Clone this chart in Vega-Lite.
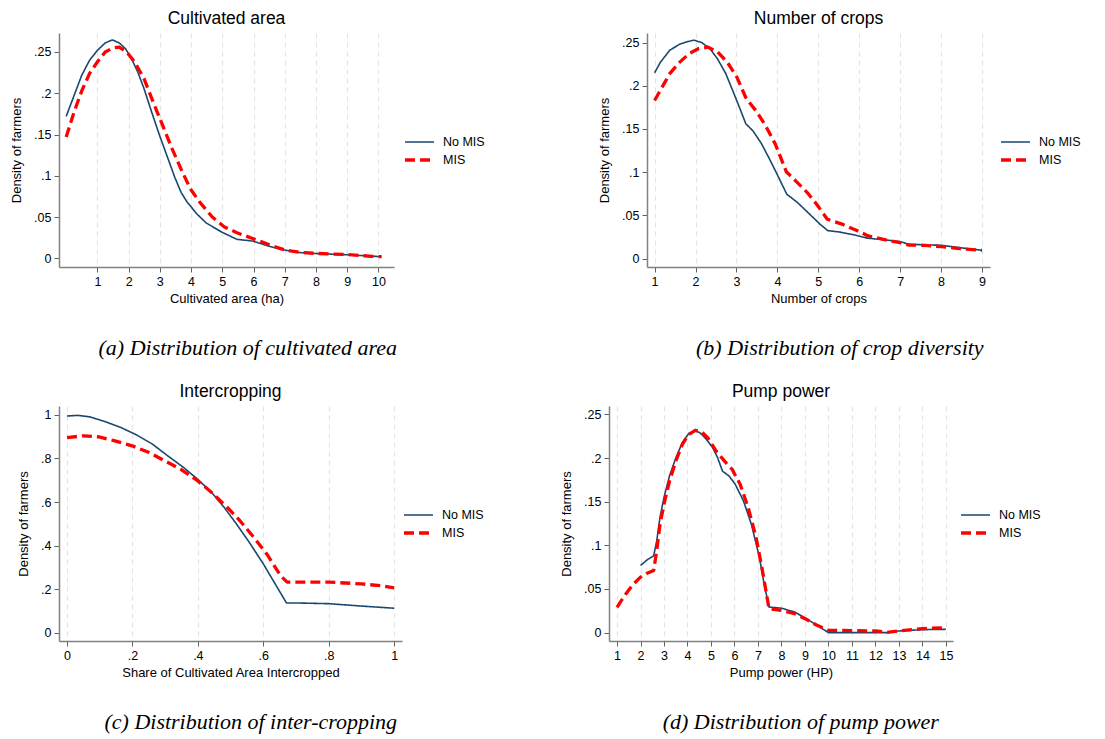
{
  "$schema": "https://vega.github.io/schema/vega-lite/v6.json",
  "padding": {"left": 10, "top": 9, "right": 5, "bottom": 5},
  "background": "white",
  "config": {
    "view": {"stroke": null},
    "font": "Liberation Sans",
    "axis": {"labelFont": "Liberation Sans", "titleFont": "Liberation Sans", "labelFontSize": 12.5, "titleFontSize": 13, "titleFontWeight": "normal", "labelColor": "#000", "titleColor": "#000", "domainColor": "#808080", "domainWidth": 1.5, "tickColor": "#606060", "tickSize": 5, "tickWidth": 1, "labelPadding": 3, "grid": false},
    "axisX": {"grid": true, "gridDash": [5, 4], "gridColor": "#e4e4e4", "gridWidth": 1.2, "titlePadding": 5},
    "axisY": {"titlePadding": 10, "labelExpr": "datum.value == 0 ? '0' : replace(format(datum.value, '~g'), '0.', '.')"},
    "legend": {"labelFont": "Liberation Sans", "labelFontSize": 12.5, "labelColor": "#000", "symbolType": "stroke", "symbolSize": 841, "clipHeight": 18, "rowPadding": 0, "labelOffset": 7, "padding": 0},
    "title": {"font": "Liberation Sans", "fontSize": 17.5, "fontWeight": "normal", "color": "#000", "anchor": "middle", "offset": 6}
  },
  "datasets": {
    "a": [
      {"x": 0.0, "y": 0.172, "s": "No MIS"}, {"x": 0.25, "y": 0.197, "s": "No MIS"}, {"x": 0.5, "y": 0.222, "s": "No MIS"}, {"x": 0.75, "y": 0.240, "s": "No MIS"}, {"x": 1.0, "y": 0.252, "s": "No MIS"}, {"x": 1.25, "y": 0.261, "s": "No MIS"}, {"x": 1.48, "y": 0.2646, "s": "No MIS"}, {"x": 1.7, "y": 0.261, "s": "No MIS"}, {"x": 1.9, "y": 0.254, "s": "No MIS"}, {"x": 2.09, "y": 0.242, "s": "No MIS"}, {"x": 2.29, "y": 0.226, "s": "No MIS"}, {"x": 2.49, "y": 0.206, "s": "No MIS"}, {"x": 2.74, "y": 0.177, "s": "No MIS"}, {"x": 2.99, "y": 0.149, "s": "No MIS"}, {"x": 3.24, "y": 0.123, "s": "No MIS"}, {"x": 3.48, "y": 0.098, "s": "No MIS"}, {"x": 3.68, "y": 0.080, "s": "No MIS"}, {"x": 3.86, "y": 0.069, "s": "No MIS"}, {"x": 4.18, "y": 0.054, "s": "No MIS"}, {"x": 4.48, "y": 0.043, "s": "No MIS"}, {"x": 4.97, "y": 0.032, "s": "No MIS"}, {"x": 5.47, "y": 0.023, "s": "No MIS"}, {"x": 5.97, "y": 0.021, "s": "No MIS"}, {"x": 6.47, "y": 0.015, "s": "No MIS"}, {"x": 6.86, "y": 0.011, "s": "No MIS"}, {"x": 7.46, "y": 0.007, "s": "No MIS"}, {"x": 8.0, "y": 0.0058, "s": "No MIS"}, {"x": 9.0, "y": 0.0043, "s": "No MIS"}, {"x": 10.1, "y": 0.002, "s": "No MIS"},
      {"x": 0.0, "y": 0.147, "s": "MIS"}, {"x": 0.25, "y": 0.177, "s": "MIS"}, {"x": 0.5, "y": 0.203, "s": "MIS"}, {"x": 0.75, "y": 0.224, "s": "MIS"}, {"x": 1.0, "y": 0.238, "s": "MIS"}, {"x": 1.25, "y": 0.250, "s": "MIS"}, {"x": 1.5, "y": 0.255, "s": "MIS"}, {"x": 1.7, "y": 0.256, "s": "MIS"}, {"x": 1.94, "y": 0.250, "s": "MIS"}, {"x": 2.19, "y": 0.238, "s": "MIS"}, {"x": 2.49, "y": 0.218, "s": "MIS"}, {"x": 2.79, "y": 0.189, "s": "MIS"}, {"x": 3.09, "y": 0.161, "s": "MIS"}, {"x": 3.39, "y": 0.133, "s": "MIS"}, {"x": 3.68, "y": 0.108, "s": "MIS"}, {"x": 3.98, "y": 0.084, "s": "MIS"}, {"x": 4.28, "y": 0.068, "s": "MIS"}, {"x": 4.68, "y": 0.050, "s": "MIS"}, {"x": 5.07, "y": 0.038, "s": "MIS"}, {"x": 5.47, "y": 0.031, "s": "MIS"}, {"x": 5.97, "y": 0.024, "s": "MIS"}, {"x": 6.47, "y": 0.017, "s": "MIS"}, {"x": 6.97, "y": 0.0105, "s": "MIS"}, {"x": 7.46, "y": 0.0073, "s": "MIS"}, {"x": 8.0, "y": 0.006, "s": "MIS"}, {"x": 9.0, "y": 0.0045, "s": "MIS"}, {"x": 9.8, "y": 0.0024, "s": "MIS"}, {"x": 10.1, "y": 0.002, "s": "MIS"}
    ],
    "b": [
      {"x": 1.0, "y": 0.215, "s": "No MIS"}, {"x": 1.14, "y": 0.227, "s": "No MIS"}, {"x": 1.37, "y": 0.241, "s": "No MIS"}, {"x": 1.61, "y": 0.248, "s": "No MIS"}, {"x": 1.8, "y": 0.251, "s": "No MIS"}, {"x": 1.96, "y": 0.2527, "s": "No MIS"}, {"x": 2.15, "y": 0.250, "s": "No MIS"}, {"x": 2.35, "y": 0.243, "s": "No MIS"}, {"x": 2.54, "y": 0.231, "s": "No MIS"}, {"x": 2.74, "y": 0.214, "s": "No MIS"}, {"x": 2.93, "y": 0.192, "s": "No MIS"}, {"x": 3.09, "y": 0.173, "s": "No MIS"}, {"x": 3.23, "y": 0.156, "s": "No MIS"}, {"x": 3.4, "y": 0.148, "s": "No MIS"}, {"x": 3.6, "y": 0.134, "s": "No MIS"}, {"x": 3.79, "y": 0.117, "s": "No MIS"}, {"x": 3.99, "y": 0.098, "s": "No MIS"}, {"x": 4.23, "y": 0.0746, "s": "No MIS"}, {"x": 4.49, "y": 0.065, "s": "No MIS"}, {"x": 4.8, "y": 0.051, "s": "No MIS"}, {"x": 5.04, "y": 0.040, "s": "No MIS"}, {"x": 5.23, "y": 0.0325, "s": "No MIS"}, {"x": 5.5, "y": 0.031, "s": "No MIS"}, {"x": 5.89, "y": 0.0274, "s": "No MIS"}, {"x": 6.22, "y": 0.0236, "s": "No MIS"}, {"x": 6.6, "y": 0.022, "s": "No MIS"}, {"x": 7.0, "y": 0.0197, "s": "No MIS"}, {"x": 7.22, "y": 0.0166, "s": "No MIS"}, {"x": 8.0, "y": 0.0155, "s": "No MIS"}, {"x": 8.5, "y": 0.0125, "s": "No MIS"}, {"x": 9.0, "y": 0.0097, "s": "No MIS"},
      {"x": 1.0, "y": 0.183, "s": "MIS"}, {"x": 1.18, "y": 0.198, "s": "MIS"}, {"x": 1.37, "y": 0.214, "s": "MIS"}, {"x": 1.61, "y": 0.227, "s": "MIS"}, {"x": 1.84, "y": 0.237, "s": "MIS"}, {"x": 2.08, "y": 0.243, "s": "MIS"}, {"x": 2.31, "y": 0.2446, "s": "MIS"}, {"x": 2.54, "y": 0.239, "s": "MIS"}, {"x": 2.78, "y": 0.227, "s": "MIS"}, {"x": 3.01, "y": 0.210, "s": "MIS"}, {"x": 3.24, "y": 0.185, "s": "MIS"}, {"x": 3.48, "y": 0.171, "s": "MIS"}, {"x": 3.71, "y": 0.154, "s": "MIS"}, {"x": 3.95, "y": 0.1325, "s": "MIS"}, {"x": 4.22, "y": 0.1005, "s": "MIS"}, {"x": 4.49, "y": 0.088, "s": "MIS"}, {"x": 4.73, "y": 0.0765, "s": "MIS"}, {"x": 4.96, "y": 0.063, "s": "MIS"}, {"x": 5.22, "y": 0.0456, "s": "MIS"}, {"x": 5.58, "y": 0.040, "s": "MIS"}, {"x": 5.97, "y": 0.032, "s": "MIS"}, {"x": 6.22, "y": 0.0263, "s": "MIS"}, {"x": 6.67, "y": 0.0216, "s": "MIS"}, {"x": 7.0, "y": 0.0185, "s": "MIS"}, {"x": 7.22, "y": 0.0158, "s": "MIS"}, {"x": 7.61, "y": 0.0155, "s": "MIS"}, {"x": 8.0, "y": 0.0139, "s": "MIS"}, {"x": 8.39, "y": 0.012, "s": "MIS"}, {"x": 8.88, "y": 0.010, "s": "MIS"}, {"x": 9.0, "y": 0.0097, "s": "MIS"}
    ],
    "c": [
      {"x": 0.0, "y": 0.995, "s": "No MIS"}, {"x": 0.032, "y": 0.998, "s": "No MIS"}, {"x": 0.07, "y": 0.991, "s": "No MIS"}, {"x": 0.117, "y": 0.969, "s": "No MIS"}, {"x": 0.165, "y": 0.942, "s": "No MIS"}, {"x": 0.213, "y": 0.908, "s": "No MIS"}, {"x": 0.261, "y": 0.866, "s": "No MIS"}, {"x": 0.308, "y": 0.812, "s": "No MIS"}, {"x": 0.356, "y": 0.759, "s": "No MIS"}, {"x": 0.399, "y": 0.705, "s": "No MIS"}, {"x": 0.442, "y": 0.644, "s": "No MIS"}, {"x": 0.48, "y": 0.576, "s": "No MIS"}, {"x": 0.518, "y": 0.499, "s": "No MIS"}, {"x": 0.557, "y": 0.415, "s": "No MIS"}, {"x": 0.6, "y": 0.316, "s": "No MIS"}, {"x": 0.633, "y": 0.232, "s": "No MIS"}, {"x": 0.671, "y": 0.136, "s": "No MIS"}, {"x": 0.709, "y": 0.136, "s": "No MIS"}, {"x": 0.8, "y": 0.133, "s": "No MIS"}, {"x": 0.9, "y": 0.122, "s": "No MIS"}, {"x": 0.96, "y": 0.116, "s": "No MIS"}, {"x": 1.0, "y": 0.112, "s": "No MIS"},
      {"x": 0.0, "y": 0.896, "s": "MIS"}, {"x": 0.05, "y": 0.904, "s": "MIS"}, {"x": 0.098, "y": 0.899, "s": "MIS"}, {"x": 0.146, "y": 0.881, "s": "MIS"}, {"x": 0.199, "y": 0.858, "s": "MIS"}, {"x": 0.251, "y": 0.827, "s": "MIS"}, {"x": 0.299, "y": 0.789, "s": "MIS"}, {"x": 0.347, "y": 0.751, "s": "MIS"}, {"x": 0.399, "y": 0.698, "s": "MIS"}, {"x": 0.442, "y": 0.644, "s": "MIS"}, {"x": 0.485, "y": 0.583, "s": "MIS"}, {"x": 0.528, "y": 0.515, "s": "MIS"}, {"x": 0.571, "y": 0.438, "s": "MIS"}, {"x": 0.614, "y": 0.354, "s": "MIS"}, {"x": 0.652, "y": 0.263, "s": "MIS"}, {"x": 0.673, "y": 0.232, "s": "MIS"}, {"x": 0.709, "y": 0.232, "s": "MIS"}, {"x": 0.8, "y": 0.232, "s": "MIS"}, {"x": 0.9, "y": 0.224, "s": "MIS"}, {"x": 0.96, "y": 0.215, "s": "MIS"}, {"x": 1.0, "y": 0.206, "s": "MIS"}
    ],
    "d": [
      {"x": 2.0, "y": 0.0769, "s": "No MIS"}, {"x": 2.28, "y": 0.0833, "s": "No MIS"}, {"x": 2.56, "y": 0.088, "s": "No MIS"}, {"x": 2.69, "y": 0.105, "s": "No MIS"}, {"x": 2.83, "y": 0.132, "s": "No MIS"}, {"x": 3.0, "y": 0.155, "s": "No MIS"}, {"x": 3.24, "y": 0.180, "s": "No MIS"}, {"x": 3.51, "y": 0.2005, "s": "No MIS"}, {"x": 3.78, "y": 0.2177, "s": "No MIS"}, {"x": 4.05, "y": 0.228, "s": "No MIS"}, {"x": 4.33, "y": 0.231, "s": "No MIS"}, {"x": 4.53, "y": 0.229, "s": "No MIS"}, {"x": 4.8, "y": 0.2215, "s": "No MIS"}, {"x": 5.07, "y": 0.212, "s": "No MIS"}, {"x": 5.28, "y": 0.2005, "s": "No MIS"}, {"x": 5.49, "y": 0.185, "s": "No MIS"}, {"x": 5.76, "y": 0.1796, "s": "No MIS"}, {"x": 6.03, "y": 0.170, "s": "No MIS"}, {"x": 6.38, "y": 0.151, "s": "No MIS"}, {"x": 6.72, "y": 0.124, "s": "No MIS"}, {"x": 7.06, "y": 0.0864, "s": "No MIS"}, {"x": 7.26, "y": 0.056, "s": "No MIS"}, {"x": 7.47, "y": 0.0293, "s": "No MIS"}, {"x": 8.0, "y": 0.028, "s": "No MIS"}, {"x": 8.56, "y": 0.0236, "s": "No MIS"}, {"x": 9.0, "y": 0.017, "s": "No MIS"}, {"x": 9.51, "y": 0.0084, "s": "No MIS"}, {"x": 10.0, "y": 0.0, "s": "No MIS"}, {"x": 12.0, "y": 0.0, "s": "No MIS"}, {"x": 12.5, "y": 0.0, "s": "No MIS"}, {"x": 13.0, "y": 0.0019, "s": "No MIS"}, {"x": 14.0, "y": 0.0034, "s": "No MIS"}, {"x": 15.0, "y": 0.0038, "s": "No MIS"},
      {"x": 1.0, "y": 0.029, "s": "MIS"}, {"x": 1.33, "y": 0.0426, "s": "MIS"}, {"x": 1.67, "y": 0.0548, "s": "MIS"}, {"x": 2.0, "y": 0.0635, "s": "MIS"}, {"x": 2.28, "y": 0.068, "s": "MIS"}, {"x": 2.56, "y": 0.0712, "s": "MIS"}, {"x": 2.69, "y": 0.094, "s": "MIS"}, {"x": 2.83, "y": 0.124, "s": "MIS"}, {"x": 3.03, "y": 0.151, "s": "MIS"}, {"x": 3.24, "y": 0.174, "s": "MIS"}, {"x": 3.51, "y": 0.197, "s": "MIS"}, {"x": 3.78, "y": 0.2157, "s": "MIS"}, {"x": 4.05, "y": 0.227, "s": "MIS"}, {"x": 4.33, "y": 0.2317, "s": "MIS"}, {"x": 4.6, "y": 0.230, "s": "MIS"}, {"x": 4.87, "y": 0.223, "s": "MIS"}, {"x": 5.22, "y": 0.208, "s": "MIS"}, {"x": 5.56, "y": 0.197, "s": "MIS"}, {"x": 5.9, "y": 0.187, "s": "MIS"}, {"x": 6.24, "y": 0.170, "s": "MIS"}, {"x": 6.58, "y": 0.1435, "s": "MIS"}, {"x": 6.92, "y": 0.109, "s": "MIS"}, {"x": 7.19, "y": 0.071, "s": "MIS"}, {"x": 7.47, "y": 0.0274, "s": "MIS"}, {"x": 8.0, "y": 0.0255, "s": "MIS"}, {"x": 8.56, "y": 0.0217, "s": "MIS"}, {"x": 9.0, "y": 0.016, "s": "MIS"}, {"x": 9.51, "y": 0.0084, "s": "MIS"}, {"x": 10.0, "y": 0.0027, "s": "MIS"}, {"x": 12.0, "y": 0.0019, "s": "MIS"}, {"x": 12.5, "y": 0.0004, "s": "MIS"}, {"x": 13.0, "y": 0.0019, "s": "MIS"}, {"x": 14.0, "y": 0.0046, "s": "MIS"}, {"x": 15.0, "y": 0.0057, "s": "MIS"}
    ]
  },
  "resolve": {"scale": {"x": "independent", "y": "independent", "color": "independent", "strokeDash": "independent", "strokeWidth": "independent"}, "legend": {"color": "independent", "strokeDash": "independent", "strokeWidth": "independent"}},
  "spacing": 23,
  "vconcat": [
    {
      "spacing": 113,
      "resolve": {"scale": {"x": "independent", "y": "independent", "color": "independent", "strokeDash": "independent", "strokeWidth": "independent"}, "legend": {"color": "independent", "strokeDash": "independent", "strokeWidth": "independent"}},
      "hconcat": [
        {
          "title": {"text": "(a) Distribution of cultivated area", "orient": "bottom", "font": "Liberation Serif", "fontStyle": "italic", "fontSize": 22, "fontWeight": "normal", "anchor": "middle", "frame": "bounds", "offset": 32},
          "vconcat": [
            {
              "data": {"name": "a"},
              "title": {"text": "Cultivated area"},
              "width": 335, "height": 234,
              "mark": {"type": "line", "strokeCap": "butt", "strokeJoin": "round"},
              "encoding": {
                "x": {"field": "x", "type": "quantitative", "scale": {"domain": [-0.23, 10.5], "nice": false, "zero": false}, "axis": {"values": [1, 2, 3, 4, 5, 6, 7, 8, 9, 10], "title": "Cultivated area (ha)"}},
                "y": {"field": "y", "type": "quantitative", "scale": {"domain": [-0.0105, 0.273], "nice": false, "zero": false}, "axis": {"values": [0, 0.05, 0.1, 0.15, 0.2, 0.25], "title": "Density of farmers"}},
                "color": {"field": "s", "type": "nominal", "scale": {"domain": ["No MIS", "MIS"], "range": ["#1a476f", "#ff0000"]}, "legend": {"orient": "none", "legendX": 344, "legendY": 100, "title": null}},
                "strokeDash": {"field": "s", "type": "nominal", "scale": {"domain": ["No MIS", "MIS"], "range": [[1, 0], [10, 5]]}, "legend": {"orient": "none", "legendX": 344, "legendY": 100, "title": null}},
                "strokeWidth": {"field": "s", "type": "ordinal", "scale": {"domain": ["No MIS", "MIS"], "range": [1.6, 3.3]}, "legend": {"orient": "none", "legendX": 344, "legendY": 100, "title": null}}
              }
            }
          ]
        },
        {
          "title": {"text": "(b) Distribution of crop diversity", "orient": "bottom", "font": "Liberation Serif", "fontStyle": "italic", "fontSize": 22, "fontWeight": "normal", "anchor": "middle", "frame": "bounds", "offset": 32},
          "vconcat": [
            {
              "data": {"name": "b"},
              "title": {"text": "Number of crops"},
              "width": 343, "height": 234,
              "mark": {"type": "line", "strokeCap": "butt", "strokeJoin": "round"},
              "encoding": {
                "x": {"field": "x", "type": "quantitative", "scale": {"domain": [0.815, 9.195], "nice": false, "zero": false}, "axis": {"values": [1, 2, 3, 4, 5, 6, 7, 8, 9], "title": "Number of crops"}},
                "y": {"field": "y", "type": "quantitative", "scale": {"domain": [-0.0096, 0.261], "nice": false, "zero": false}, "axis": {"values": [0, 0.05, 0.1, 0.15, 0.2, 0.25], "title": "Density of farmers"}},
                "color": {"field": "s", "type": "nominal", "scale": {"domain": ["No MIS", "MIS"], "range": ["#1a476f", "#ff0000"]}, "legend": {"orient": "none", "legendX": 352, "legendY": 100, "title": null}},
                "strokeDash": {"field": "s", "type": "nominal", "scale": {"domain": ["No MIS", "MIS"], "range": [[1, 0], [10, 5]]}, "legend": {"orient": "none", "legendX": 352, "legendY": 100, "title": null}},
                "strokeWidth": {"field": "s", "type": "ordinal", "scale": {"domain": ["No MIS", "MIS"], "range": [1.6, 3.3]}, "legend": {"orient": "none", "legendX": 352, "legendY": 100, "title": null}}
              }
            }
          ]
        }
      ]
    },
    {
      "spacing": 76,
      "resolve": {"scale": {"x": "independent", "y": "independent", "color": "independent", "strokeDash": "independent", "strokeWidth": "independent"}, "legend": {"color": "independent", "strokeDash": "independent", "strokeWidth": "independent"}},
      "hconcat": [
        {
          "title": {"text": "(c) Distribution of inter-cropping", "orient": "bottom", "font": "Liberation Serif", "fontStyle": "italic", "fontSize": 22, "fontWeight": "normal", "anchor": "middle", "frame": "bounds", "offset": 32},
          "vconcat": [
            {
              "data": {"name": "c"},
              "title": {"text": "Intercropping"},
              "width": 343, "height": 235,
              "mark": {"type": "line", "strokeCap": "butt", "strokeJoin": "round"},
              "encoding": {
                "x": {"field": "x", "type": "quantitative", "scale": {"domain": [-0.0245, 1.024], "nice": false, "zero": false}, "axis": {"values": [0, 0.2, 0.4, 0.6, 0.8, 1], "title": "Share of Cultivated Area Intercropped", "labelExpr": "datum.value == 0 ? '0' : replace(format(datum.value, '~g'), '0.', '.')"}},
                "y": {"field": "y", "type": "quantitative", "scale": {"domain": [-0.0385, 1.041], "nice": false, "zero": false}, "axis": {"values": [0, 0.2, 0.4, 0.6, 0.8, 1], "title": "Density of farmers"}},
                "color": {"field": "s", "type": "nominal", "scale": {"domain": ["No MIS", "MIS"], "range": ["#1a476f", "#ff0000"]}, "legend": {"orient": "none", "legendX": 343, "legendY": 100, "title": null}},
                "strokeDash": {"field": "s", "type": "nominal", "scale": {"domain": ["No MIS", "MIS"], "range": [[1, 0], [10, 5]]}, "legend": {"orient": "none", "legendX": 343, "legendY": 100, "title": null}},
                "strokeWidth": {"field": "s", "type": "ordinal", "scale": {"domain": ["No MIS", "MIS"], "range": [1.6, 3.3]}, "legend": {"orient": "none", "legendX": 343, "legendY": 100, "title": null}}
              }
            }
          ]
        },
        {
          "title": {"text": "(d) Distribution of pump power", "orient": "bottom", "font": "Liberation Serif", "fontStyle": "italic", "fontSize": 22, "fontWeight": "normal", "anchor": "middle", "frame": "bounds", "offset": 32},
          "vconcat": [
            {
              "data": {"name": "d"},
              "title": {"text": "Pump power"},
              "width": 344, "height": 235,
              "mark": {"type": "line", "strokeCap": "butt", "strokeJoin": "round"},
              "encoding": {
                "x": {"field": "x", "type": "quantitative", "scale": {"domain": [0.659, 15.3], "nice": false, "zero": false}, "axis": {"values": [1, 2, 3, 4, 5, 6, 7, 8, 9, 10, 11, 12, 13, 14, 15], "title": "Pump power (HP)"}},
                "y": {"field": "y", "type": "quantitative", "scale": {"domain": [-0.0096, 0.2596], "nice": false, "zero": false}, "axis": {"values": [0, 0.05, 0.1, 0.15, 0.2, 0.25], "title": "Density of farmers"}},
                "color": {"field": "s", "type": "nominal", "scale": {"domain": ["No MIS", "MIS"], "range": ["#1a476f", "#ff0000"]}, "legend": {"orient": "none", "legendX": 350, "legendY": 100, "title": null}},
                "strokeDash": {"field": "s", "type": "nominal", "scale": {"domain": ["No MIS", "MIS"], "range": [[1, 0], [10, 5]]}, "legend": {"orient": "none", "legendX": 350, "legendY": 100, "title": null}},
                "strokeWidth": {"field": "s", "type": "ordinal", "scale": {"domain": ["No MIS", "MIS"], "range": [1.6, 3.3]}, "legend": {"orient": "none", "legendX": 350, "legendY": 100, "title": null}}
              }
            }
          ]
        }
      ]
    }
  ]
}
